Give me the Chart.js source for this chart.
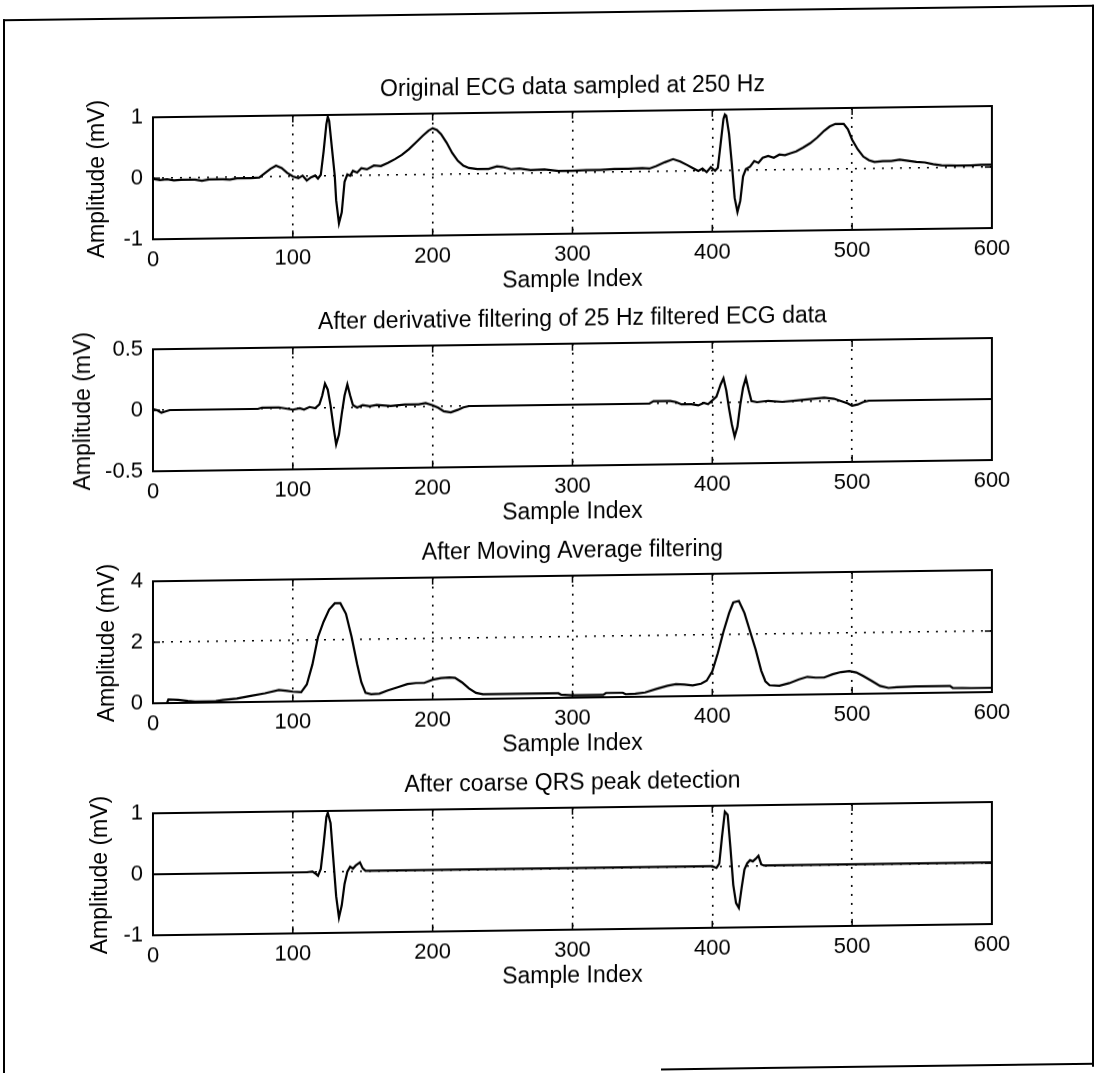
<!DOCTYPE html>
<html><head><meta charset="utf-8">
<script src="https://cdn.jsdelivr.net/npm/chart.js@4.4.1/dist/chart.umd.min.js"></script>
<style>
html,body{margin:0;padding:0;background:#fff;}
body{width:1096px;height:1073px;position:relative;overflow:hidden;}
#page{position:absolute;left:0;top:0;width:1096px;height:1073px;transform:skewY(-0.77deg);transform-origin:548px 536px;}
.frame{position:absolute;background:#000;}
.box{position:absolute;left:0;width:1096px;height:232px;}
</style></head><body>
<div id="page">
<div class="frame" style="left:3px;top:12px;width:2px;height:1070px"></div>
<div class="frame" style="left:3px;top:12px;width:1091px;height:2px"></div>
<div class="frame" style="left:1092px;top:12px;width:2px;height:1062px"></div>
<div class="frame" style="left:661px;top:1070px;width:433px;height:2px"></div>
<div class="box" style="top:62px"><canvas id="c1" width="1096" height="232"></canvas></div>
<div class="box" style="top:294px"><canvas id="c2" width="1096" height="232"></canvas></div>
<div class="box" style="top:526px"><canvas id="c3" width="1096" height="232"></canvas></div>
<div class="box" style="top:758px"><canvas id="c4" width="1096" height="232"></canvas></div>
</div>
<script>
// ---------- data ----------
const xTicks = [0, 100, 200, 300, 400, 500, 600];
const xAxisLabel = 'Sample Index';
const yAxisLabel = 'Amplitude (mV)';
const titles = [
  'Original ECG data sampled at 250 Hz',
  'After derivative filtering of 25 Hz filtered ECG data',
  'After Moving Average filtering',
  'After coarse QRS peak detection'
];
const yTicks1 = [-1, 0, 1];
const yTicks2 = [-0.5, 0, 0.5];
const yTicks3 = [0, 2, 4];
const yTicks4 = [-1, 0, 1];

// Original ECG
const ecgX = [0,5,10,15,20,30,35,40,50,55,60,70,76,80,84,88,92,96,100,104,107,110,113,116,118,120,122,124,125,126,128,130,131,133,135,137,139,141,143,146,149,153,158,163,168,173,178,183,188,193,197,200,203,206,210,214,218,222,226,232,240,246,250,256,262,270,280,290,300,310,320,330,340,350,355,360,366,372,377,382,386,390,393,396,399,402,404,406,408,409,410,412,414,416,418,420,422,424,427,430,433,436,440,444,448,452,456,460,465,470,475,480,484,488,494,497,500,504,508,512,516,522,528,534,540,546,552,558,564,575,585,592,600];
const ecgY = [-0.01,-0.03,-0.02,-0.04,-0.03,-0.03,-0.05,-0.03,-0.03,-0.04,-0.02,-0.02,-0.01,0.06,0.13,0.18,0.14,0.06,0.0,-0.03,0.01,-0.07,-0.02,0.01,-0.04,0.02,0.4,0.85,0.97,0.9,0.45,0.0,-0.4,-0.78,-0.6,-0.1,0.02,0.0,0.08,0.05,0.12,0.1,0.16,0.15,0.2,0.26,0.33,0.42,0.53,0.64,0.72,0.76,0.73,0.66,0.52,0.35,0.22,0.14,0.1,0.08,0.08,0.12,0.11,0.07,0.08,0.05,0.06,0.03,0.03,0.04,0.04,0.05,0.05,0.06,0.05,0.09,0.15,0.2,0.16,0.1,0.05,0.0,0.04,-0.02,0.06,0.0,0.05,0.45,0.85,0.92,0.9,0.6,0.1,-0.45,-0.68,-0.5,-0.1,0.02,0.06,0.15,0.12,0.2,0.23,0.2,0.25,0.24,0.27,0.3,0.36,0.43,0.52,0.63,0.7,0.74,0.74,0.65,0.48,0.32,0.2,0.14,0.11,0.12,0.12,0.14,0.12,0.1,0.09,0.06,0.04,0.03,0.03,0.04,0.04];

// Derivative filtered
const derivX = [0,3,6,9,12,75,78,90,95,100,105,108,112,116,119,121,123,125,127,129,131,133,135,137,139,141,143,146,150,155,160,170,180,190,195,200,204,208,213,218,222,226,240,300,355,358,370,374,378,385,390,394,397,400,403,406,408,410,412,414,416,418,420,422,424,426,428,432,440,450,460,470,480,487,492,497,500,504,508,512,600];
const derivY = [0.01,0.0,-0.02,-0.01,0.0,0.0,0.01,0.01,0.0,-0.01,0.0,-0.01,0.01,0.0,0.03,0.1,0.2,0.15,0.02,-0.15,-0.3,-0.22,-0.05,0.1,0.19,0.1,0.02,0.0,0.02,0.01,0.02,0.01,0.02,0.02,0.03,0.01,-0.01,-0.04,-0.05,-0.03,-0.01,0.0,0.0,0.0,0.0,0.02,0.02,0.01,-0.01,-0.01,-0.02,0.0,-0.01,0.02,0.05,0.15,0.2,0.1,-0.05,-0.18,-0.28,-0.2,-0.02,0.12,0.2,0.1,0.01,0.0,0.01,0.0,0.01,0.02,0.03,0.02,0.0,-0.02,-0.04,-0.03,-0.01,0.0,0.0];

// Moving average
const maX = [0,10,11,18,25,30,45,50,60,70,80,90,96,100,106,110,114,118,122,126,130,134,138,142,146,149,152,156,162,168,175,182,188,194,200,206,212,216,221,226,231,236,260,290,292,300,322,324,336,338,345,352,360,368,374,380,386,392,396,400,404,408,412,415,419,423,427,431,435,438,441,448,455,462,468,474,480,486,492,498,503,508,514,520,526,532,545,570,572,585,600];
const maY = [0,0,0.12,0.1,0.06,0.04,0.05,0.08,0.12,0.2,0.28,0.38,0.35,0.32,0.3,0.55,1.2,2.1,2.6,3.0,3.2,3.2,2.85,2.1,1.2,0.6,0.25,0.2,0.22,0.32,0.42,0.52,0.55,0.55,0.65,0.7,0.72,0.7,0.55,0.35,0.2,0.15,0.15,0.15,0.1,0.08,0.08,0.14,0.14,0.09,0.1,0.14,0.25,0.35,0.4,0.38,0.35,0.4,0.5,0.8,1.4,2.1,2.7,3.05,3.1,2.7,2.1,1.5,0.8,0.45,0.32,0.3,0.38,0.5,0.58,0.55,0.55,0.65,0.72,0.75,0.7,0.58,0.42,0.25,0.18,0.2,0.22,0.22,0.15,0.14,0.14];

// Coarse QRS detection
const qrsX = [0,110,114,116,118,120,122,124,125,127,129,131,133,135,137,139,141,143,145,148,150,152,400,403,405,407,409,411,413,415,417,419,421,423,425,427,429,431,433,435,437,600];
const qrsY = [0,0.0,0.01,-0.02,-0.06,0.05,0.45,0.9,0.97,0.8,0.2,-0.4,-0.75,-0.55,-0.2,0.0,0.08,0.05,0.1,0.15,0.05,0.01,0.01,-0.02,0.05,0.5,0.9,0.85,0.3,-0.3,-0.6,-0.68,-0.35,-0.05,0.05,0.1,0.08,0.12,0.17,0.03,0.01,0.01];

// ---------- layout / style ----------
const FONT = "'Liberation Sans', Arial, Helvetica, sans-serif";
Chart.defaults.font.family = FONT;
Chart.defaults.font.size = 22;
Chart.defaults.color = '#000';

const boxPlugin = {
  id: 'axesBox',
  afterDatasetsDraw(chart) {
    const {ctx, chartArea: a, scales: {x, y}} = chart;
    ctx.save();
    ctx.strokeStyle = '#000';
    ctx.lineWidth = 2;
    ctx.setLineDash([]);
    ctx.strokeRect(a.left, a.top, a.right - a.left, a.bottom - a.top);
    ctx.lineWidth = 1.5;
    ctx.beginPath();
    const L = 7;
    x.ticks.forEach(t => {
      const px = x.getPixelForValue(t.value);
      ctx.moveTo(px, a.bottom); ctx.lineTo(px, a.bottom - L);
      ctx.moveTo(px, a.top); ctx.lineTo(px, a.top + L);
    });
    y.ticks.forEach(t => {
      const py = y.getPixelForValue(t.value);
      ctx.moveTo(a.left, py); ctx.lineTo(a.left + L, py);
      ctx.moveTo(a.right, py); ctx.lineTo(a.right - L, py);
    });
    ctx.stroke();
    ctx.restore();
  }
};

function makeChart(id, title, xs, ys, yTicks, yTitleCenter) {
  const yMin = yTicks[0], yMax = yTicks[yTicks.length - 1];
  const edgeColor = (min, max) => c => (c.tick && (c.tick.value === min || c.tick.value === max)) ? 'rgba(0,0,0,0)' : '#000';
  return new Chart(document.getElementById(id), {
    type: 'line',
    data: {
      datasets: [{
        data: xs.map((x, i) => ({x: x, y: ys[i]})),
        borderColor: '#000',
        borderWidth: 2.2,
        pointRadius: 0,
        tension: 0,
        fill: false
      }]
    },
    options: {
      responsive: false,
      animation: false,
      events: [],
      layout: {padding: {left: 0, right: 104, top: 0, bottom: 0}},
      plugins: {
        legend: {display: false},
        tooltip: {enabled: false},
        title: {
          display: true, text: title, fullSize: false,
          font: {size: 23, weight: 'normal', family: FONT, lineHeight: 1.2},
          color: '#000',
          padding: {top: 11.4, bottom: 11}
        }
      },
      scales: {
        x: {
          type: 'linear', min: xTicks[0], max: xTicks[xTicks.length - 1],
          afterBuildTicks: s => { s.ticks = xTicks.map(v => ({value: v})); },
          afterFit: s => { s.height = 60; },
          ticks: {padding: 8, maxRotation: 0, autoSkip: false, font: {size: 22}},
          grid: {drawTicks: false, lineWidth: 1.6, color: edgeColor(xTicks[0], xTicks[xTicks.length - 1])},
          border: {display: false, dash: [2, 7]},
          title: {display: true, text: xAxisLabel, font: {size: 23, lineHeight: 1.2}, padding: {top: 0, bottom: 0}}
        },
        y: {
          type: 'linear', min: yMin, max: yMax,
          afterBuildTicks: s => { s.ticks = yTicks.map(v => ({value: v})); },
          afterFit: s => { s.width = 153; },
          ticks: {padding: 10, autoSkip: false, font: {size: 22}},
          grid: {drawTicks: false, lineWidth: 1.6, color: edgeColor(yMin, yMax)},
          border: {display: false, dash: [2, 7]},
          title: {display: true, text: yAxisLabel, font: {size: 23, lineHeight: 1.2}, padding: {top: yTitleCenter - 13.8, bottom: 0}}
        }
      }
    },
    plugins: [boxPlugin]
  });
}

makeChart('c1', titles[0], ecgX, ecgY, yTicks1, 98);
makeChart('c2', titles[1], derivX, derivY, yTicks2, 84);
makeChart('c3', titles[2], maX, maY, yTicks3, 108);
makeChart('c4', titles[3], qrsX, qrsY, yTicks4, 101);
</script>
</body></html>
